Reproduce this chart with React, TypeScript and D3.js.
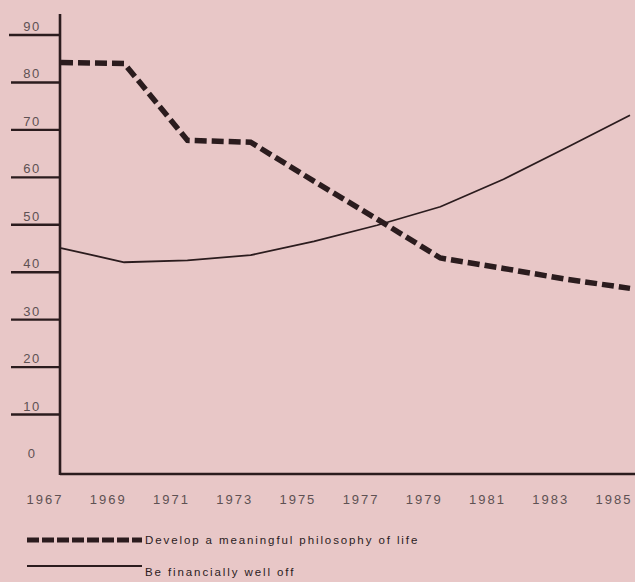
import * as d3 from "d3";

const YEARS = [1967, 1969, 1971, 1973, 1975, 1977, 1979, 1981, 1983, 1985];
// "Develop a meaningful philosophy of life" (dashed)
const PHILOSOPHY = [84.2, 84.0, 67.8, 67.4, 59.2, 51.2, 43.0, 40.8, 38.5, 36.6];
// "Be financially well off" (solid)
const FINANCIAL = [45.1, 42.1, 42.5, 43.6, 46.5, 49.9, 53.8, 59.6, 66.3, 73.1];
const Y_TICKS = [0, 10, 20, 30, 40, 50, 60, 70, 80, 90];
const LEGEND = ["Develop a meaningful philosophy of life", "Be financially well off"];

const W = 635;
const H = 582;
const INK = "#2b1c1e";
const GREY = "#5e5153";
const BG = "#e8c7c7";

export default function App() {
  const x = d3.scaleLinear().domain([1967, 1985]).range([61, 630]);
  const y = d3.scaleLinear().domain([0, 90]).range([462, 35]);
  const axisX = 60;
  const baseY = y(0) + 12;

  const line = d3
    .line<number>()
    .x((_, i) => x(YEARS[i]))
    .y((d) => y(d));

  const font = "'Liberation Sans', Arial, Helvetica, sans-serif";

  return (
    <>
      <style>{"body{margin:0}"}</style>
      <svg width={W} height={H} style={{ display: "block", fontFamily: font }}>
        <rect width={W} height={H} fill={BG} />

        {/* y axis ticks + labels */}
        {Y_TICKS.map((t) => (
          <g key={t}>
            {t > 0 && (
              <line x1={t === 90 ? 9 : 11} x2={axisX} y1={y(t)} y2={y(t)} stroke={INK} strokeWidth={2.4} />
            )}
            <text x={32} y={y(t) - 4} textAnchor="middle" fontSize={13} letterSpacing={1.5} fill={GREY}>
              {t}
            </text>
          </g>
        ))}

        {/* axes */}
        <line x1={axisX} x2={axisX} y1={14} y2={baseY + 1} stroke={INK} strokeWidth={2.6} />
        <line x1={axisX} x2={W} y1={baseY} y2={baseY} stroke={INK} strokeWidth={2.6} />

        {YEARS.map((yr) => (
          <text key={yr} x={x(yr) - 16} y={504} textAnchor="middle" fontSize={13} letterSpacing={2} fill={GREY}>
            {yr}
          </text>
        ))}

        {/* series */}
        <path d={line(FINANCIAL)!} fill="none" stroke={INK} strokeWidth={1.8} strokeLinejoin="round" />
        <path d={line(PHILOSOPHY)!} fill="none" stroke={INK} strokeWidth={5.5} strokeDasharray="12 5" />

        {/* legend */}
        <line x1={27} x2={142} y1={540} y2={540} stroke={INK} strokeWidth={5} strokeDasharray="12 3" />
        <text x={145} y={544} fontSize={11.5} letterSpacing={1.9} fill={INK}>
          {LEGEND[0]}
        </text>
        <line x1={27} x2={142} y1={566} y2={566} stroke={INK} strokeWidth={1.8} />
        <text x={145} y={576} fontSize={11.5} letterSpacing={1.9} fill={INK}>
          {LEGEND[1]}
        </text>
      </svg>
    </>
  );
}
